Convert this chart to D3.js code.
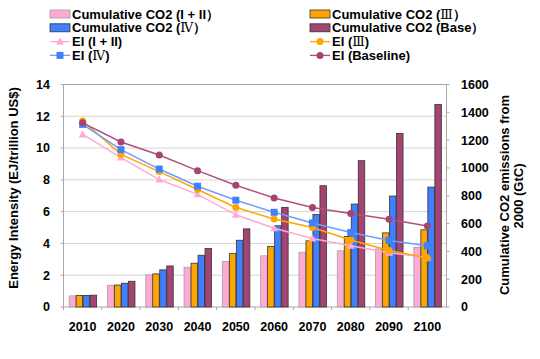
<!DOCTYPE html>
<html><head><meta charset="utf-8">
<script src="https://cdn.jsdelivr.net/npm/d3@7"></script>
<style>body{margin:0;background:#fff}svg{display:block}text{font-family:"Liberation Sans",Arial,sans-serif;font-weight:bold;fill:#000}.rn{font-family:"DejaVu Serif",serif;font-weight:normal}</style>
</head><body><svg id="c" width="540" height="359"></svg>
<script>
const years = ["2010","2020","2030","2040","2050","2060","2070","2080","2090","2100"];
const co2_I_II = [80,156,231,286,327,368,394,404,418,430];
const co2_III  = [83,158,238,315,384,435,476,507,533,555];
const co2_IV   = [83,171,267,372,480,584,665,740,798,862];
const co2_Base = [85,185,295,420,562,716,872,1052,1247,1456];
const ei_I_II  = [10.86,9.40,8.02,7.09,5.80,4.96,4.31,3.85,3.41,3.12];
const ei_III   = [11.70,9.60,8.52,7.39,6.26,5.54,5.00,4.22,3.56,3.08];
const ei_IV    = [11.49,9.90,8.68,7.60,6.72,5.96,5.29,4.69,4.19,3.85];
const ei_Base  = [11.59,10.38,9.56,8.58,7.66,6.86,6.26,5.88,5.52,5.10];
const leftTicks = [0,2,4,6,8,10,12,14];
const rightTicks = [0,200,400,600,800,1000,1200,1400,1600];

const svg = d3.select("#c");
const L=63.5, R=446.5, T=84.5, B=307;
const x = d3.scaleBand().domain(years).range([L,R]);
const xs = d3.scaleBand().domain([0,1,2,3]).range([0,28]);
const yL = d3.scaleLinear().domain([0,14]).range([B,T]);
const yR = d3.scaleLinear().domain([0,1600]).range([B,T]);

svg.append("g").selectAll("line").data(leftTicks.slice(1)).join("line")
  .attr("x1",L).attr("x2",R).attr("y1",d=>yL(d)).attr("y2",d=>yL(d))
  .attr("stroke","#d4d4d4").attr("stroke-width",1);
svg.append("rect").attr("x",L).attr("y",T).attr("width",R-L).attr("height",B-T)
  .attr("fill","none").attr("stroke","#a8a8a8").attr("stroke-width",1);

const barSeries = [
  {v:co2_I_II, fill:"#ffaad5", stroke:"#a0a0a0"},
  {v:co2_III, fill:"#ffa500", stroke:"#333"},
  {v:co2_IV, fill:"#4080ff", stroke:"#333"},
  {v:co2_Base, fill:"#a34472", stroke:"#333"}
];
const off = (x.bandwidth()-28)/2;
barSeries.forEach((s,i)=>{
  svg.append("g").selectAll("rect").data(years).join("rect")
    .attr("x",(d)=>x(d)+off+xs(i)+0.5)
    .attr("y",(d,j)=>yR(s.v[j]))
    .attr("width",xs.bandwidth()-0.5)
    .attr("height",(d,j)=>B-yR(s.v[j]))
    .attr("fill",s.fill).attr("stroke",s.stroke).attr("stroke-width",0.8);
});

const lineSeries = [
  {v:ei_I_II, color:"#ffaad5", marker:"triangle"},
  {v:ei_III, color:"#ffa500", marker:"circle", mcolor:"#ffa500"},
  {v:ei_IV, color:"#6f9dff", marker:"square", mcolor:"#4080ff"},
  {v:ei_Base, color:"#b0507f", marker:"circle", mcolor:"#a34472"}
];
const cx = d=>x(d)+x.bandwidth()/2;
function drawMarker(g, type, color, px, py){
  if(type==="circle") g.append("circle").attr("cx",px).attr("cy",py).attr("r",3.5).attr("fill",color);
  else if(type==="square") g.append("rect").attr("x",px-3.5).attr("y",py-3.5).attr("width",7).attr("height",7).attr("fill",color);
  else g.append("path").attr("d",`M${px},${py-4}L${px+4},${py+3}L${px-4},${py+3}Z`).attr("fill",color);
}
const line = d3.line().x((d,j)=>cx(years[j])).y(d=>yL(d));
lineSeries.forEach(s=>{
  svg.append("path").datum(s.v).attr("d",line).attr("fill","none").attr("stroke",s.color).attr("stroke-width",1.5);
  const g = svg.append("g");
  s.v.forEach((v,j)=>drawMarker(g,s.marker,s.mcolor||s.color,cx(years[j]),yL(v)));
});

const axL = svg.append("g");
leftTicks.forEach(t=>{
  axL.append("line").attr("x1",L-3).attr("x2",L).attr("y1",yL(t)).attr("y2",yL(t)).attr("stroke","#a8a8a8");
  axL.append("text").attr("x",50).attr("y",yL(t)).attr("dy","0.35em").attr("text-anchor","end").attr("font-size",12.5).text(t);
});
const axR = svg.append("g");
rightTicks.forEach(t=>{
  axR.append("line").attr("x1",R).attr("x2",R+3).attr("y1",yR(t)).attr("y2",yR(t)).attr("stroke","#a8a8a8");
  axR.append("text").attr("x",461).attr("y",yR(t)).attr("dy","0.35em").attr("text-anchor","start").attr("font-size",12.5).text(t);
});
const axB = svg.append("g");
years.forEach((y,i)=>{
  axB.append("line").attr("x1",x(y)).attr("x2",x(y)).attr("y1",B).attr("y2",B+3).attr("stroke","#a8a8a8");
  axB.append("text").attr("x",cx(y)).attr("y",327).attr("dy","0.35em").attr("text-anchor","middle").attr("font-size",12.5).text(y);
});
svg.append("text").attr("transform","translate(18,188) rotate(-90)").attr("text-anchor","middle").attr("font-size",13)
  .text("Energy Intensity (EJ/trillion US$)");
svg.append("text").attr("transform","translate(509,195) rotate(-90)").attr("text-anchor","middle").attr("font-size",13)
  .text("Cumulative CO2 emissions from");
svg.append("text").attr("transform","translate(523,196) rotate(-90)").attr("text-anchor","middle").attr("font-size",13)
  .text("2000 (GtC)");

// legend: text parts, roman numerals in serif
const legendItems = [
  {t:["Cumulative CO2 (I + II）"], type:"bar", s:barSeries[0], col:0, row:0},
  {t:["Cumulative CO2 (","Ⅲ","）"], type:"bar", s:barSeries[1], col:1, row:0},
  {t:["Cumulative CO2 (","Ⅳ","）"], type:"bar", s:barSeries[2], col:0, row:1},
  {t:["Cumulative CO2 (Base）"], type:"bar", s:barSeries[3], col:1, row:1},
  {t:["EI (I + II)"], type:"line", s:lineSeries[0], col:0, row:2},
  {t:["EI (","Ⅲ",")"], type:"line", s:lineSeries[1], col:1, row:2},
  {t:["EI (","Ⅳ",")"], type:"line", s:lineSeries[2], col:0, row:3},
  {t:["EI (Baseline)"], type:"line", s:lineSeries[3], col:1, row:3}
];
const lg = svg.append("g");
legendItems.forEach(it=>{
  const x0 = it.col===0?50:310, yc = 14+it.row*13.8;
  if(it.type==="bar"){
    lg.append("rect").attr("x",x0).attr("y",yc-4).attr("width",20).attr("height",8)
      .attr("fill",it.s.fill).attr("stroke",it.s.stroke).attr("stroke-width",0.8);
  } else {
    lg.append("line").attr("x1",x0).attr("x2",x0+20).attr("y1",yc).attr("y2",yc).attr("stroke",it.s.color).attr("stroke-width",1.3);
    drawMarker(lg,it.s.marker,it.s.mcolor||it.s.color,x0+10,yc);
  }
  const tx = lg.append("text").attr("x",x0+22).attr("y",yc).attr("dy","0.36em").attr("font-size",13);
  it.t.forEach(p=>{
    const sp = tx.append("tspan").text(p);
    if(/[Ⅰ-Ⅻ]/.test(p)) sp.attr("class","rn");
  });
});
</script></body></html>
